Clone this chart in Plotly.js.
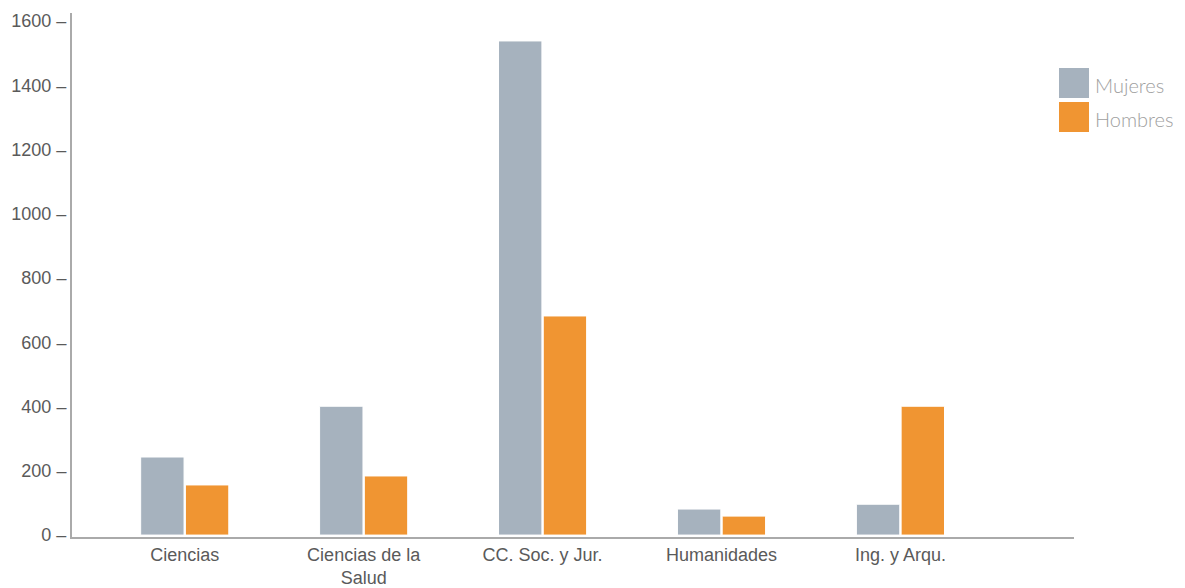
<!DOCTYPE html>
<html>
<head>
<meta charset="utf-8">
<script src="https://cdn.plot.ly/plotly-3.0.1.min.js"></script>
<style>html,body{margin:0;padding:0;background:#fff;}#chart{width:1185px;height:588px;}</style>
</head>
<body>
<div id="chart"></div>
<script>
const categories = ["Ciencias", "Ciencias de la<br>Salud", "CC. Soc. y Jur.", "Humanidades", "Ing. y Arqu."];
const mujeres = [243, 401, 1538, 81, 96];
const hombres = [156, 184, 682, 59, 401];
const seriesNames = ["Mujeres", "Hombres"];
const colors = ["#a6b2be", "#f09532"];
const yTicks = [0, 200, 400, 600, 800, 1000, 1200, 1400, 1600];
const yTickLabels = ["0 –", "200 –", "400 –", "600 –", "800 –", "1000 –", "1200 –", "1400 –", "1600 –"];

const traces = [
  {type: "bar", name: seriesNames[0], x: categories, y: mujeres,
   marker: {color: colors[0], line: {color: "#ffffff", width: 1}}, showlegend: false},
  {type: "bar", name: seriesNames[1], x: categories, y: hombres,
   marker: {color: colors[1], line: {color: "#ffffff", width: 1}}, showlegend: false}
];

const shapes = [];
const annotations = [];
seriesNames.forEach((n, i) => {
  shapes.push({type: "rect", xref: "paper", yref: "paper",
    x0: (1059 - 72) / 1002, x1: (1089 - 72) / 1002,
    y0: (537 - (98 + i * 34)) / 524, y1: (537 - (68 + i * 34)) / 524,
    fillcolor: colors[i], line: {width: 0}});
  annotations.push({xref: "paper", yref: "paper", x: (1093 - 72) / 1002, y: (537 - (85 + i * 34)) / 524,
    xanchor: "left", yanchor: "middle", text: n, showarrow: false,
    font: {family: "Lato, 'Open Sans', sans-serif", size: 20, color: "#a0a0a0", weight: 300}});
});

const layout = {
  width: 1185, height: 588,
  margin: {l: 72, r: 111, t: 13, b: 51},
  paper_bgcolor: "#ffffff", plot_bgcolor: "#ffffff",
  barmode: "group", bargap: 0.5, bargroupgap: 0.03,
  xaxis: {type: "category", range: [-0.63, 4.97], showline: true, linecolor: "#aaaaaa", linewidth: 2,
    ticks: "", showgrid: false, zeroline: false,
    tickfont: {family: "'Liberation Sans', Arial, sans-serif", size: 18, color: "#5a5a5a"}},
  yaxis: {range: [-6, 1625], tickvals: yTicks, ticktext: yTickLabels, showline: true, linecolor: "#aaaaaa", linewidth: 2,
    ticks: "", showgrid: false, zeroline: false, ticklabelstandoff: 0,
    tickfont: {family: "'Liberation Sans', Arial, sans-serif", size: 18, color: "#5a5a5a"}},
  shapes: shapes, annotations: annotations
};

Plotly.newPlot("chart", traces, layout, {displayModeBar: false, staticPlot: true});
</script>
</body>
</html>
